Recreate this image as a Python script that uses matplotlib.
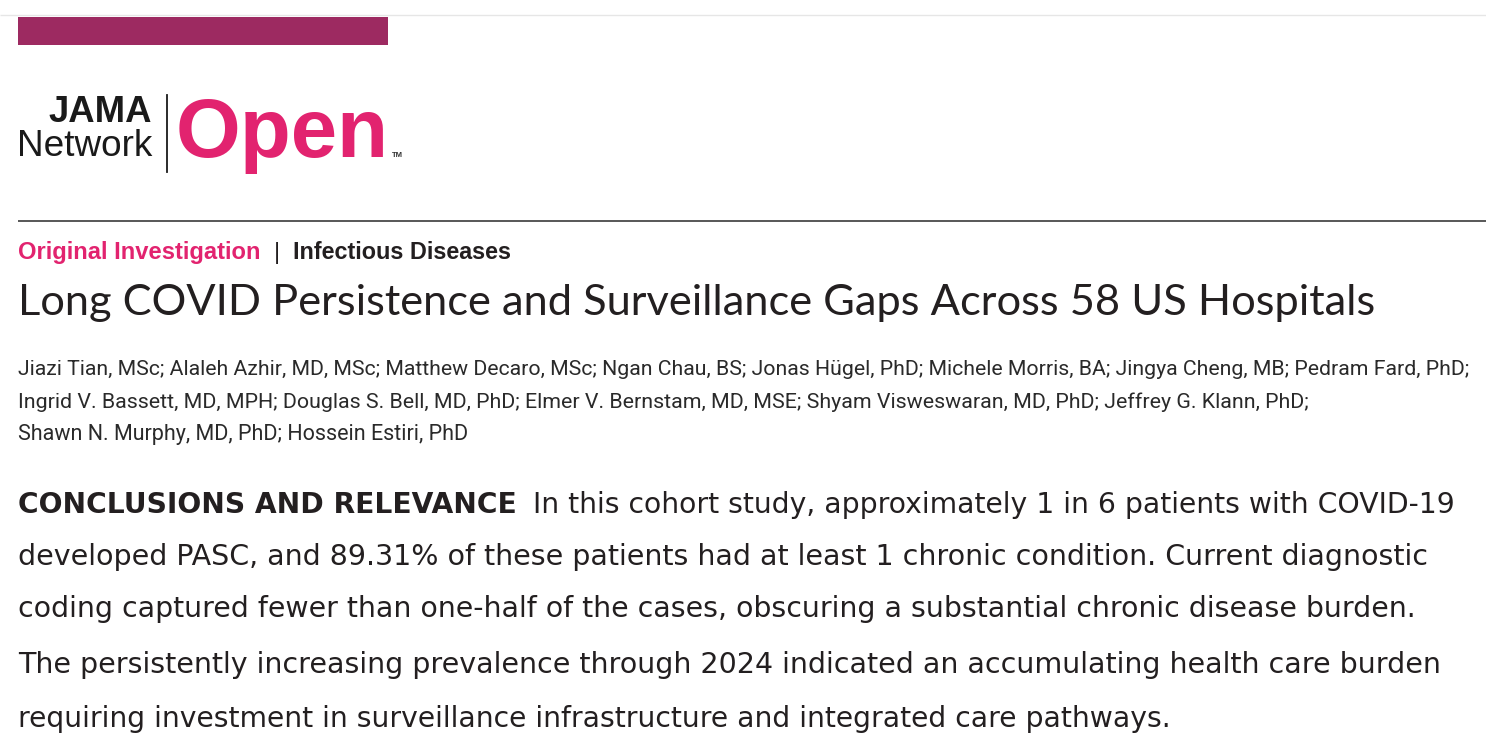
import matplotlib
matplotlib.use("Agg")
import matplotlib.pyplot as plt
from matplotlib import font_manager as fm
from matplotlib.font_manager import FontProperties
from matplotlib.textpath import TextPath
from matplotlib.patches import Rectangle

# ---------------- content ----------------
LOGO_TOP = "JAMA"
LOGO_BOTTOM = "Network"
LOGO_OPEN = "Open"
LOGO_TM = "TM"
SECTION = "Original Investigation"
SUBJECT = "Infectious Diseases"
TITLE = "Long COVID Persistence and Surveillance Gaps Across 58 US Hospitals"
AUTHORS = [
    "Jiazi Tian, MSc; Alaleh Azhir, MD, MSc; Matthew Decaro, MSc; Ngan Chau, BS; Jonas Hügel, PhD; Michele Morris, BA; Jingya Cheng, MB; Pedram Fard, PhD;",
    "Ingrid V. Bassett, MD, MPH; Douglas S. Bell, MD, PhD; Elmer V. Bernstam, MD, MSE; Shyam Visweswaran, MD, PhD; Jeffrey G. Klann, PhD;",
    "Shawn N. Murphy, MD, PhD; Hossein Estiri, PhD",
]
CONCL_HEAD = "CONCLUSIONS AND RELEVANCE"
CONCL_LINES = [
    "In this cohort study, approximately 1 in 6 patients with COVID-19",
    "developed PASC, and 89.31% of these patients had at least 1 chronic condition. Current diagnostic",
    "coding captured fewer than one-half of the cases, obscuring a substantial chronic disease burden.",
    "The persistently increasing prevalence through 2024 indicated an accumulating health care burden",
    "requiring investment in surveillance infrastructure and integrated care pathways.",
]

# ---------------- layout (pixels) ----------------
W, H = 1486, 756
AUTH_BASE = [375, 408, 440]
AUTH_RIGHT = [1476, 1312, 469]
CONCL_BASE = [513, 565, 617, 673, 727]
CONCL_RIGHT = [1453, 1421, 1416, 1442, 1177]

DARK = "#231f20"
MAGENTA = "#e2236f"
BAR = "#9d2a61"

fig = plt.figure(figsize=(W / 100, H / 100), dpi=100)
ax = fig.add_axes([0, 0, 1, 1])
ax.set_xlim(0, W)
ax.set_ylim(H, 0)
ax.axis("off")
R = fig.canvas.get_renderer()


def available(fam, weight="normal"):
    try:
        path = fm.findfont(FontProperties(family=fam, weight=weight),
                           fallback_to_default=False)
    except Exception:
        return False
    if weight == "bold":
        return "bold" in path.lower()
    return True


def cap_ratio(fam, weight):
    tp = TextPath((0, 0), "H", size=100, prop=FontProperties(family=fam, weight=weight))
    return tp.get_extents().height / 100.0


def choose(sample, target_w, target_cap, cands, weight="normal"):
    best, besterr = None, 1e9
    for fam in cands:
        if not available(fam, weight):
            continue
        t = ax.text(0, 0, sample, fontsize=20, family=fam, weight=weight)
        w = t.get_window_extent(R).width
        t.remove()
        fs = 20 * target_w / w
        cap = fs * 100 / 72 * cap_ratio(fam, weight)
        err = abs(cap - target_cap)
        if err < besterr:
            best, besterr = fam, err
    return best or "DejaVu Sans"


def put(x, y, s, target_w, family, weight="normal", color=DARK, ha="left"):
    t = ax.text(x, y, s, fontsize=20, family=family, weight=weight, color=color,
                ha=ha, va="baseline")
    for _ in range(3):
        w = t.get_window_extent(R).width
        t.set_fontsize(t.get_fontsize() * target_w / w)
    return t


CANDS = ["Open Sans", "Lato", "Noto Sans", "Roboto", "Liberation Sans Narrow",
         "Liberation Sans", "DejaVu Sans"]
LOGO_FONT = "Liberation Sans" if available("Liberation Sans") else "DejaVu Sans"

# ---------------- header decorations ----------------
ax.plot([0, W], [15, 15], color="#e6e6e6", lw=1.0, solid_capstyle="butt")
ax.add_patch(Rectangle((18, 17), 370, 28, facecolor=BAR, edgecolor="none"))

# logo
put(152, 122, LOGO_TOP, 103, LOGO_FONT, weight="bold", color="#1a1a1a", ha="right")
put(152, 156, LOGO_BOTTOM, 135, LOGO_FONT, weight="normal", color="#1a1a1a", ha="right")
ax.plot([167, 167], [95, 172], color="#1a1a1a", lw=1.3)
put(176, 157, LOGO_OPEN, 213, LOGO_FONT, weight="bold", color=MAGENTA)
put(392, 157, LOGO_TM, 11, LOGO_FONT, weight="bold", color="#333333")

# divider
ax.plot([18, W], [221, 221], color="#4a4a4a", lw=1.3, solid_capstyle="butt")

# section line
sec_font = choose(SECTION, 244, 17, CANDS, weight="bold")
t_sec = put(18, 259, SECTION, 244, sec_font, weight="bold", color=MAGENTA)
ax.text(277, 259, "|", fontsize=t_sec.get_fontsize(), family=sec_font,
        color=DARK, ha="center", va="baseline")
put(293, 259, SUBJECT, 218, sec_font, weight="bold", color=DARK)

# title
title_font = choose(TITLE, 1362, 32, CANDS)
put(18, 315, TITLE, 1362, title_font, color=DARK)

# authors
auth_font = choose(AUTHORS[0], AUTH_RIGHT[0] - 18, 16, CANDS)
for s, yb, xr in zip(AUTHORS, AUTH_BASE, AUTH_RIGHT):
    put(18, yb, s, xr - 18, auth_font, color="#2a2a2a")

# conclusions
con_font = choose(CONCL_LINES[1], CONCL_RIGHT[1] - 18, 20, CANDS)
put(18, CONCL_BASE[0], CONCL_HEAD, 496, con_font, weight="bold", color=DARK)
put(533, CONCL_BASE[0], CONCL_LINES[0], CONCL_RIGHT[0] - 533, con_font, color=DARK)
for s, yb, xr in zip(CONCL_LINES[1:], CONCL_BASE[1:], CONCL_RIGHT[1:]):
    put(18, yb, s, xr - 18, con_font, color=DARK)

fig.savefig("out.png", dpi=100, facecolor="white")
